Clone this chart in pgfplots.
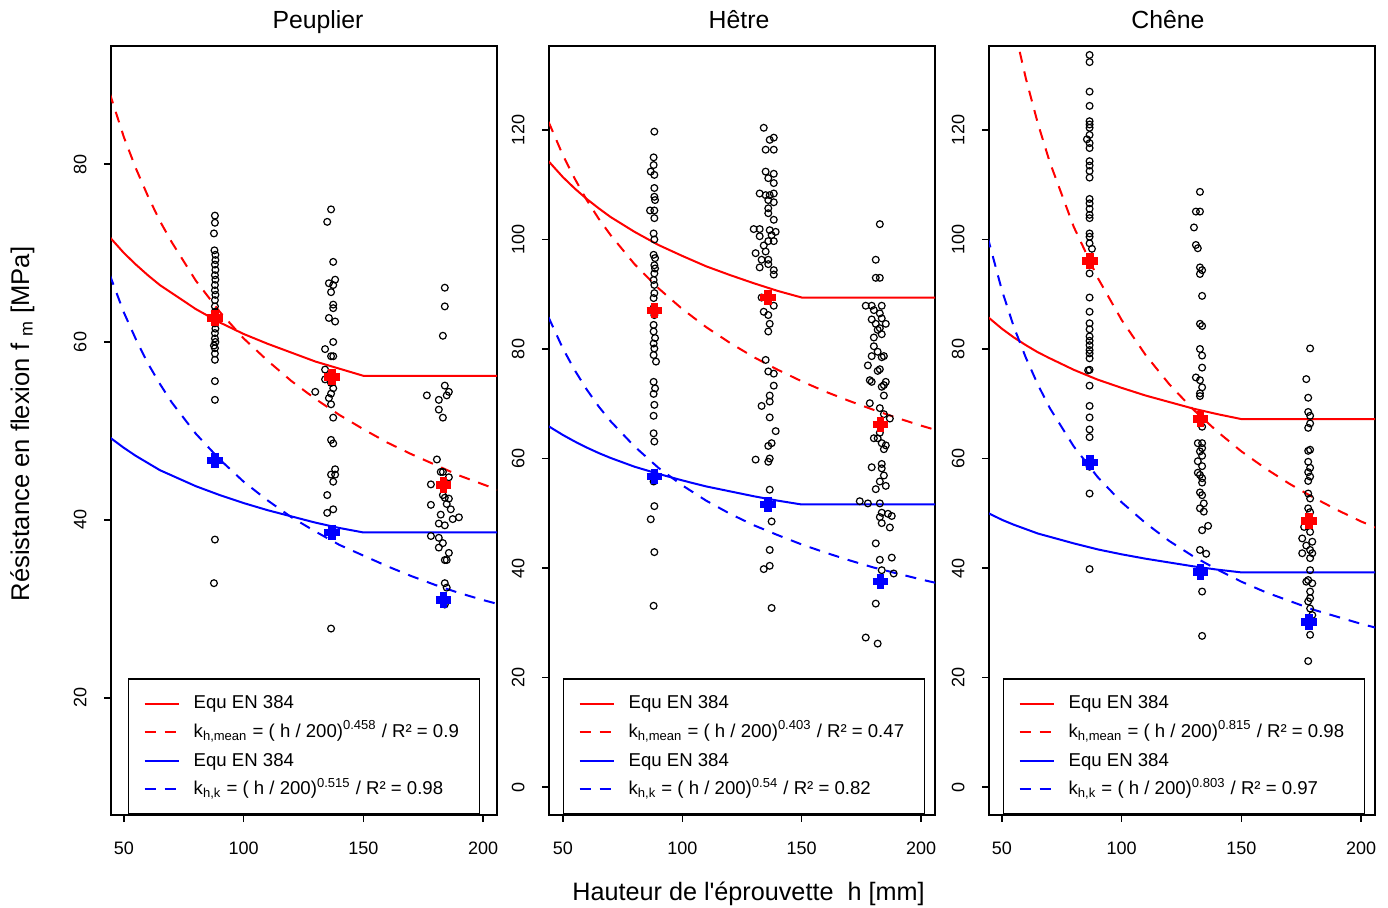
\documentclass[border=0pt]{standalone}
\usepackage{fontspec}
\setmainfont{Liberation Sans}
\usepackage{pgfplots}
\pgfplotsset{compat=1.18}
\definecolor{rred}{RGB}{255,0,0}
\definecolor{rblue}{RGB}{0,0,255}
\pgfplotsset{
  panel/.style={
    scale only axis, width=193pt, height=384.5pt, anchor=north west,
    xmin=44.6, xmax=205.8,
    xtick={50,100,150,200},
    axis line style={line width=0.75pt},
    every tick/.style={black, line width=0.75pt},
    tick align=outside, major tick length=3.5pt,
    xtick pos=bottom, ytick pos=left,
    tick label style={font=\fontsize{9}{10}\selectfont},
    /pgf/number format/assume math mode=true,
    yticklabel style={rotate=90, anchor=base, inner sep=0pt},
    xticklabel style={anchor=north, inner sep=0pt},
    yticklabel shift=8.8pt,
    xticklabel shift=10pt,
    legend image code/.code={\draw[##1] (0pt,0pt) -- (17pt,0pt);},
    legend cell align=left,
    legend style={anchor=north west, draw=black, line width=0.75pt, fill=white,
      inner xsep=7.5pt, inner ysep=8.5pt, row sep=6.6pt, column sep=7pt,
      font=\fontsize{9.3}{11}\selectfont,
      nodes={inner sep=0pt, text height=6.5pt, text depth=1.2pt}},
  },
  pts/.style={only marks, mark=o, mark size=1.7pt, black, mark options={line width=0.6pt}, forget plot},
  crs/.style={only marks, mark=+, mark size=3.9pt, mark options={line width=3.8pt}, forget plot},
  sol/.style={line width=1pt, no marks},
  dsh/.style={line width=1pt, no marks, dash pattern=on 5.5pt off 4.5pt},
}
\begin{document}
\begin{tikzpicture}
\useasboundingbox (0,0) rectangle (694pt,-454pt);
% ---------------- Peuplier
\begin{axis}[panel, at={(55.5pt,-23pt)}, ymin=6.85, ymax=93.26, ytick={20,40,60,80},
  legend style={at={(0.044,0.178)}}]
\addplot[sol, rred] coordinates {(44,71.8) (50,70.0) (55,68.7) (60,67.5) (65,66.4) (70,65.5) (80,63.7) (90,62.2) (100,60.9) (110,59.8) (120,58.8) (130,57.8) (140,57.0) (150,56.2) (207,56.2)};
\addlegendentry{\makebox[135.5pt][l]{Equ EN 384}}
\addplot[dsh, rred] coordinates {(44,88.0) (50,83.0) (55,79.5) (60,76.4) (65,73.6) (70,71.2) (80,66.9) (90,63.4) (100,60.4) (110,57.9) (120,55.6) (130,53.6) (140,51.8) (150,50.2) (160,48.7) (170,47.4) (180,46.2) (190,45.0) (200,44.0) (207,43.3)};
\addlegendentry{\makebox[135.5pt][l]{k\textsubscript{h,mean} = ( h / 200)\textsuperscript{0.458} / R² = 0.9}}
\addplot[sol, rblue] coordinates {(44,49.3) (50,48.1) (55,47.2) (60,46.4) (65,45.6) (70,45.0) (80,43.8) (90,42.8) (100,41.9) (110,41.1) (120,40.4) (130,39.7) (140,39.1) (150,38.6) (207,38.6)};
\addlegendentry{\makebox[135.5pt][l]{Equ EN 384}}
\addplot[dsh, rblue] coordinates {(44,67.6) (50,63.3) (55,60.3) (60,57.6) (65,55.3) (70,53.2) (80,49.7) (90,46.8) (100,44.3) (110,42.2) (120,40.3) (130,38.7) (140,37.2) (150,36.0) (160,34.8) (170,33.7) (180,32.7) (190,31.8) (200,31.0) (207,30.5)};
\addlegendentry{\makebox[135.5pt][l]{k\textsubscript{h,k} = ( h / 200)\textsuperscript{0.515} / R² = 0.98}}
\addplot[pts] table {
88.0 74.2
88.0 73.4
87.6 72.2
87.8 70.3
88.2 69.8
88.2 69.2
88.0 68.7
88.2 68.1
88.0 67.5
88.2 67.0
88.0 66.4
88.0 65.8
88.2 65.3
88.0 64.7
88.0 64.0
88.0 63.4
88.0 62.1
88.2 61.5
88.0 61.0
88.0 60.4
88.2 60.0
87.6 59.6
88.0 59.3
88.0 58.7
88.0 58.0
88.0 55.6
88.0 53.5
88.0 37.8
87.6 32.9
136.5 74.9
134.9 73.5
137.4 69.0
138.2 67.0
135.6 66.6
137.4 66.4
136.5 65.6
137.4 64.2
137.4 63.8
135.6 62.7
138.2 62.3
137.4 60.0
134.0 59.2
136.5 58.4
137.4 58.4
134.0 56.9
134.0 55.8
136.5 55.4
137.4 54.8
129.9 54.4
136.5 54.2
135.6 53.7
136.5 53.0
137.4 51.5
136.5 49.0
137.4 48.6
138.2 45.7
136.5 45.1
138.2 45.1
137.4 44.3
134.9 42.8
137.4 41.2
134.9 40.8
136.5 27.8
184.0 66.1
184.0 64.0
183.2 60.7
184.0 55.1
185.7 54.4
176.5 54.0
184.8 54.0
181.5 53.5
181.5 52.4
183.2 51.5
180.7 46.8
182.3 45.4
183.2 45.4
185.7 44.8
178.2 44.0
183.2 42.8
184.0 42.5
185.7 42.4
184.8 41.8
178.2 41.7
186.5 41.2
182.3 40.6
189.9 40.3
187.3 40.1
181.5 39.6
184.0 39.4
178.2 38.2
181.5 38.0
183.2 37.4
181.5 36.9
185.7 36.3
184.0 35.5
184.8 35.5
184.0 32.9
184.8 32.4
184.0 30.5
};
\addplot[crs, rred] coordinates {(88.0,62.7) (137.0,56.1) (183.5,43.9)};
\addplot[crs, rblue] coordinates {(88.0,46.7) (137.0,38.6) (183.5,31.0)};
\end{axis}
% ---------------- Hetre
\begin{axis}[panel, at={(274.5pt,-23pt)}, xmin=44.2, ymin=-5.11, ymax=135.34, ytick={0,20,40,60,80,100,120},
  legend style={at={(0.036,0.178)}}]
\addplot[sol, rred] coordinates {(44,114.3) (50,111.4) (55,109.3) (60,107.4) (65,105.7) (70,104.1) (80,101.4) (90,99.0) (100,97.0) (110,95.1) (120,93.5) (130,92.0) (140,90.6) (150,89.4) (207,89.4)};
\addlegendentry{\makebox[140.5pt][l]{Equ EN 384}}
\addplot[dsh, rred] coordinates {(44,121.5) (50,115.4) (55,111.1) (60,107.2) (65,103.8) (70,100.8) (80,95.5) (90,91.1) (100,87.3) (110,84.0) (120,81.1) (130,78.5) (140,76.2) (150,74.1) (160,72.2) (170,70.5) (180,68.9) (190,67.4) (200,66.0) (207,65.1)};
\addlegendentry{\makebox[140.5pt][l]{k\textsubscript{h,mean} = ( h / 200)\textsuperscript{0.403} / R² = 0.47}}
\addplot[sol, rblue] coordinates {(44,65.9) (50,64.3) (55,63.1) (60,62.0) (65,61.0) (70,60.1) (80,58.5) (90,57.2) (100,56.0) (110,54.9) (120,54.0) (130,53.1) (140,52.3) (150,51.6) (207,51.6)};
\addlegendentry{\makebox[140.5pt][l]{Equ EN 384}}
\addplot[dsh, rblue] coordinates {(44,85.8) (50,80.1) (55,76.1) (60,72.6) (65,69.5) (70,66.8) (80,62.2) (90,58.3) (100,55.1) (110,52.3) (120,49.9) (130,47.8) (140,46.0) (150,44.3) (160,42.8) (170,41.4) (180,40.1) (190,39.0) (200,37.9) (207,37.2)};
\addlegendentry{\makebox[140.5pt][l]{k\textsubscript{h,k} = ( h / 200)\textsuperscript{0.54} / R² = 0.82}}
\addplot[pts] table {
88.3 119.7
88.0 115.0
88.0 113.6
86.8 112.4
88.3 111.8
88.3 109.4
88.3 107.8
88.6 107.2
86.5 105.3
88.3 105.3
88.3 103.9
88.0 101.1
88.3 100.0
88.0 97.2
88.6 96.6
88.3 95.3
88.6 94.7
88.3 93.8
88.0 92.6
88.3 91.7
88.3 90.2
88.0 89.3
88.0 87.5
88.3 86.2
88.0 84.4
88.0 83.2
88.6 82.0
88.0 81.0
88.3 80.1
88.0 78.9
89.0 77.7
88.0 74.0
88.6 72.8
88.0 71.8
88.3 69.8
88.0 67.8
88.0 64.6
88.3 63.1
88.0 55.8
88.3 51.3
86.8 48.9
88.3 42.9
88.0 33.1
134.1 120.4
136.6 118.2
138.3 118.6
134.9 116.4
138.3 116.4
134.9 112.4
138.3 112.0
136.0 111.2
138.3 110.3
132.4 108.4
134.9 108.1
136.6 108.1
138.3 108.4
136.0 107.2
138.3 106.8
136.0 105.7
136.0 104.8
138.3 103.6
129.9 101.9
132.4 101.9
136.6 101.7
139.1 101.4
132.4 100.6
137.4 100.8
136.0 99.7
138.3 99.7
134.1 98.9
130.7 97.5
134.9 97.8
133.2 96.3
136.0 96.3
136.0 95.5
132.4 94.9
138.3 94.4
138.3 93.6
133.2 89.4
138.3 87.9
134.1 86.8
136.0 86.2
136.6 84.6
136.0 83.2
134.9 78.0
136.0 75.9
138.3 75.5
138.3 73.3
136.6 71.5
136.6 70.4
133.2 69.6
136.6 67.5
139.1 65.0
137.4 62.8
136.0 62.3
130.7 59.8
136.6 60.0
136.0 59.4
136.6 54.3
137.4 48.5
136.6 43.3
136.6 40.4
134.1 39.8
137.4 32.7
182.7 102.8
181.0 96.3
181.0 93.0
182.7 93.0
176.8 87.9
179.3 87.9
183.5 87.9
180.2 87.1
182.7 86.5
183.5 85.6
179.3 85.4
185.2 84.6
181.0 84.6
182.7 83.8
181.8 83.5
183.5 82.7
180.2 82.1
180.2 80.5
181.8 79.5
184.4 78.7
183.5 78.5
179.3 78.7
177.7 77.0
181.8 76.0
182.7 76.3
178.5 74.3
179.3 74.0
185.2 74.0
184.4 73.4
183.5 73.1
184.4 71.5
178.5 70.1
182.7 69.2
184.4 68.1
186.9 67.3
182.7 64.7
180.2 63.7
181.8 63.7
183.5 62.8
185.2 62.4
184.4 61.7
179.3 58.4
183.5 59.0
183.5 58.2
184.4 56.9
182.7 55.8
185.2 55.0
181.0 54.4
174.3 52.2
177.7 51.8
182.7 51.8
183.5 50.1
186.1 49.9
187.7 49.5
182.7 49.3
183.5 48.2
186.9 47.4
181.0 44.5
182.7 41.5
187.7 41.9
183.5 39.6
188.5 39.0
181.0 33.5
176.8 27.3
181.8 26.2
};
\addplot[crs, rred] coordinates {(88.3,87.0) (135.9,89.4) (182.9,66.2)};
\addplot[crs, rblue] coordinates {(88.3,56.7) (135.9,51.6) (182.9,37.5)};
\end{axis}
% ---------------- Chene
\begin{axis}[panel, at={(494.5pt,-23pt)}, ymin=-5.11, ymax=135.34, ytick={0,20,40,60,80,100,120},
  legend style={at={(0.036,0.178)}}]
\addplot[sol, rred] coordinates {(44,85.9) (50,83.7) (55,82.1) (60,80.7) (65,79.4) (70,78.3) (80,76.2) (90,74.4) (100,72.9) (110,71.5) (120,70.3) (130,69.1) (140,68.1) (150,67.2) (207,67.2)};
\addlegendentry{\makebox[140.5pt][l]{Equ EN 384}}
\addplot[dsh, rred] coordinates {(44,166.6) (50,150.1) (55,138.9) (60,129.4) (65,121.2) (70,114.1) (80,102.3) (90,93.0) (100,85.3) (110,78.9) (120,73.5) (130,68.9) (140,64.9) (150,61.3) (160,58.2) (170,55.4) (180,52.9) (190,50.6) (200,48.5) (207,47.2)};
\addlegendentry{\makebox[140.5pt][l]{k\textsubscript{h,mean} = ( h / 200)\textsuperscript{0.815} / R² = 0.98}}
\addplot[sol, rblue] coordinates {(44,50.1) (50,48.8) (55,47.9) (60,47.1) (65,46.3) (70,45.7) (80,44.5) (90,43.4) (100,42.5) (110,41.7) (120,41.0) (130,40.3) (140,39.7) (150,39.2) (207,39.2)};
\addlegendentry{\makebox[140.5pt][l]{Equ EN 384}}
\addplot[dsh, rblue] coordinates {(44,100.5) (50,90.7) (55,84.0) (60,78.4) (65,73.5) (70,69.2) (80,62.2) (90,56.6) (100,52.0) (110,48.2) (120,44.9) (130,42.1) (140,39.7) (150,37.5) (160,35.6) (170,34.0) (180,32.4) (190,31.1) (200,29.8) (207,29.0)};
\addlegendentry{\makebox[140.5pt][l]{k\textsubscript{h,k} = ( h / 200)\textsuperscript{0.803} / R² = 0.97}}
\addplot[pts] table {
86.6 133.7
86.6 132.4
86.6 127.0
86.6 124.4
86.6 121.6
86.6 121.0
86.6 120.4
85.5 118.3
86.6 119.1
86.6 117.6
86.6 116.7
86.6 114.3
86.6 113.5
86.6 112.5
86.6 111.3
86.6 107.4
86.6 106.6
86.6 105.6
86.6 104.5
86.6 103.9
86.6 101.1
86.6 100.5
86.6 99.3
87.6 98.3
86.6 93.8
86.6 89.4
86.6 86.8
86.6 84.7
86.6 83.6
86.6 82.3
86.6 81.5
86.6 80.7
86.6 79.8
86.6 79.2
86.6 78.3
86.6 76.2
86.0 76.1
86.6 73.3
86.6 69.6
86.6 67.5
86.6 65.3
86.6 63.9
86.6 58.5
86.6 53.6
86.6 39.8
132.7 108.7
131.0 105.1
132.7 105.1
130.2 102.2
131.0 99.0
131.8 98.4
132.7 94.9
133.6 94.4
132.7 93.7
133.6 89.7
132.7 84.6
133.6 84.2
132.7 80.0
133.6 78.8
133.6 76.6
131.0 74.8
132.7 74.3
133.6 73.0
132.7 71.9
132.7 71.4
133.6 65.8
131.8 62.8
133.6 62.8
133.6 61.9
132.7 61.3
133.6 60.5
131.8 59.5
133.6 58.6
131.8 57.4
132.7 57.0
133.6 56.4
133.6 55.6
132.7 53.8
133.6 53.3
134.3 51.8
132.7 50.9
134.3 50.3
133.6 46.9
136.1 47.7
132.7 43.3
135.3 42.6
133.6 35.7
133.6 27.6
178.7 80.1
177.1 74.5
177.9 71.1
177.9 68.5
178.7 67.8
178.7 66.4
177.9 65.6
177.9 61.4
178.7 61.6
177.9 59.4
178.7 58.3
177.9 57.5
178.7 56.7
177.9 55.9
177.9 53.6
178.7 52.7
177.9 50.9
178.7 50.2
176.2 47.5
178.7 46.6
175.4 45.4
177.1 44.1
179.6 44.8
178.7 43.3
175.4 42.7
179.6 42.7
178.7 41.8
178.7 39.6
177.9 37.8
177.1 37.5
179.6 37.2
178.7 35.7
178.7 34.5
177.9 33.9
178.7 32.6
179.6 31.4
178.7 27.8
177.9 23.0
};
\addplot[crs, rred] coordinates {(86.9,96.1) (132.9,67.2) (178.2,48.6)};
\addplot[crs, rblue] coordinates {(86.9,59.3) (132.9,39.3) (178.2,30.1)};
\end{axis}
% ---------------- titles and labels
\node[anchor=base, font=\fontsize{12.4}{14}\selectfont] at (159pt,-14.5pt) {Peuplier};
\node[anchor=base, font=\fontsize{12.4}{14}\selectfont] at (369.5pt,-14.5pt) {Hêtre};
\node[anchor=base, font=\fontsize{12.4}{14}\selectfont] at (584pt,-14.5pt) {Chêne};
\node[anchor=base, font=\fontsize{12.6}{14}\selectfont] at (374.25pt,-450pt) {Hauteur de l\textquotesingle éprouvette\ \ h [mm]};
\node[rotate=90, anchor=base, font=\fontsize{12.8}{14}\selectfont] at (14.5pt,-212pt) {Résistance en flexion f \textsubscript{m} [MPa]};
\end{tikzpicture}
\end{document}
